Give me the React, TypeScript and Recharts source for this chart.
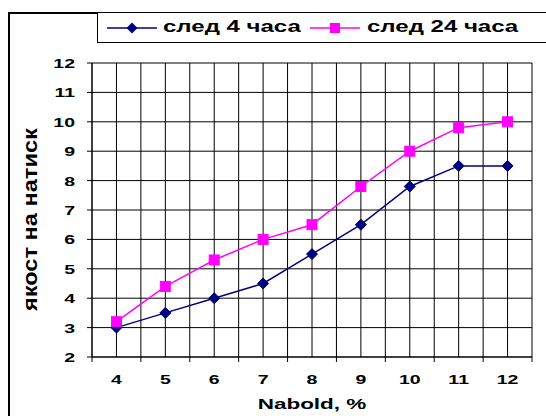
import React from 'react';
import { LineChart, Line, XAxis, YAxis, CartesianGrid, Legend } from 'recharts';

const categories = [4, 5, 6, 7, 8, 9, 10, 11, 12];
const after4h = [3, 3.5, 4, 4.5, 5.5, 6.5, 7.8, 8.5, 8.5];
const after24h = [3.2, 4.4, 5.3, 6, 6.5, 7.8, 9, 9.8, 10];
const yTicks = [2, 3, 4, 5, 6, 7, 8, 9, 10, 11, 12];
const seriesNames = ['след 4 часа', 'след 24 часа'];
const xTitle = 'Nabold, %';
const yTitle = 'якост на натиск';

const data = categories.map((c, i) => ({ nabold: c, h4: after4h[i], h24: after24h[i] }));

// grid / tick positions: category centres plus the boundaries between them
const xTicks = categories
  .flatMap((c) => [c - 0.5, c])
  .concat(categories[categories.length - 1] + 0.5);

const FONT = '"Liberation Sans", Arial, sans-serif';
const STRETCH = 1.5; // the original picture is stretched sideways

const WideText = ({ x, y, size, anchor, children }: any) => (
  <text
    transform={`translate(${x},${y}) scale(${STRETCH},1)`}
    textAnchor={anchor}
    fontSize={size}
    fontWeight="bold"
    fill="#000"
    fontFamily={FONT}
  >
    {children}
  </text>
);

const XTick = ({ x, y, payload }: any) => {
  if (Number.isInteger(payload.value)) {
    return (
      <WideText x={x} y={y + 27} size={13} anchor="middle">
        {payload.value}
      </WideText>
    );
  }
  return <line x1={x} x2={x} y1={y} y2={y + 5} stroke="#000" />;
};

const YTick = ({ x, y, payload }: any) => (
  <WideText x={x} y={y + 5} size={13} anchor="end">
    {payload.value}
  </WideText>
);

const XTitle = ({ viewBox }: any) => (
  <WideText x={viewBox.x + viewBox.width / 2} y={395} size={15} anchor="middle">
    {xTitle}
  </WideText>
);

// rotated title, a little longer than normal and cut at the top like the original
const YTitle = () => (
  <g>
    <defs>
      <clipPath id="ytitle-clip">
        <rect x={0} y={114} width={60} height={300} />
      </clipPath>
    </defs>
    <g clipPath="url(#ytitle-clip)">
      <text
        transform="translate(22,297) rotate(-90) scale(1.18,1)"
        textAnchor="start"
        dominantBaseline="middle"
        fontSize={20}
        fontWeight="bold"
        fill="#000"
        fontFamily={FONT}
      >
        {yTitle}
      </text>
    </g>
  </g>
);

const Diamond = ({ cx, cy, index }: any) => (
  <path
    key={`d-${index}`}
    d={`M${cx},${cy - 5.5}L${cx + 5.5},${cy}L${cx},${cy + 5.5}L${cx - 5.5},${cy}Z`}
    fill="#000080"
    stroke="#000080"
  />
);

const Square = ({ cx, cy, index }: any) => (
  <rect key={`s-${index}`} x={cx - 5} y={cy - 5} width={10} height={10} fill="#ff00ff" stroke="#ff00ff" />
);

const legendText: React.CSSProperties = {
  position: 'absolute',
  top: 5,
  fontSize: 16,
  fontWeight: 'bold',
  fontFamily: FONT,
  color: '#000',
  whiteSpace: 'nowrap',
  transform: `scaleX(${STRETCH})`,
  transformOrigin: 'left center',
};

const LegendBox = () => (
  <div
    style={{
      position: 'relative',
      border: '1px solid #000',
      background: '#fff',
      height: 29,
      width: 470,
    }}
  >
    <svg width={50} height={12} style={{ position: 'absolute', left: 9, top: 9 }}>
      <line x1={0} x2={50} y1={6} y2={6} stroke="#000080" strokeWidth={1.5} />
      <path d="M25,0.5L30.5,6L25,11.5L19.5,6Z" fill="#000080" />
    </svg>
    <span style={{ ...legendText, left: 65 }}>{seriesNames[0]}</span>
    <svg width={50} height={12} style={{ position: 'absolute', left: 212, top: 9 }}>
      <line x1={0} x2={50} y1={6} y2={6} stroke="#ff00ff" strokeWidth={1.5} />
      <rect x={20} y={1} width={10} height={10} fill="#ff00ff" />
    </svg>
    <span style={{ ...legendText, left: 269 }}>{seriesNames[1]}</span>
  </div>
);

export default function App() {
  return (
    <div
      style={{
        position: 'fixed',
        left: 8,
        top: 12,
        width: 536,
        height: 404,
        borderLeft: '2px solid #000',
        borderTop: '2px solid #000',
        background: '#fff',
      }}
    >
      <LineChart width={536} height={402} data={data} margin={{ top: 49, right: 14, left: 0, bottom: 0 }}>
        <CartesianGrid stroke="#000" strokeWidth={1} />
        <XAxis
          dataKey="nabold"
          type="number"
          domain={[3.5, 12.5]}
          ticks={xTicks}
          interval={0}
          tickLine={false}
          tickSize={0}
          tickMargin={0}
          tick={<XTick />}
          axisLine={{ stroke: '#000' }}
          height={59}
          label={<XTitle />}
        />
        <YAxis
          type="number"
          domain={[2, 12]}
          ticks={yTicks}
          interval={0}
          width={82}
          tickSize={5}
          tickMargin={12}
          tickLine={{ stroke: '#000' }}
          axisLine={{ stroke: '#000' }}
          tick={<YTick />}
          label={<YTitle />}
        />
        <Legend
          layout="horizontal"
          verticalAlign="middle"
          wrapperStyle={{ top: -2, left: 87, width: 480 }}
          content={<LegendBox />}
        />
        <Line
          type="linear"
          dataKey="h4"
          name={seriesNames[0]}
          stroke="#000080"
          strokeWidth={1.5}
          dot={Diamond}
          isAnimationActive={false}
        />
        <Line
          type="linear"
          dataKey="h24"
          name={seriesNames[1]}
          stroke="#ff00ff"
          strokeWidth={1.5}
          dot={Square}
          isAnimationActive={false}
        />
      </LineChart>
    </div>
  );
}
